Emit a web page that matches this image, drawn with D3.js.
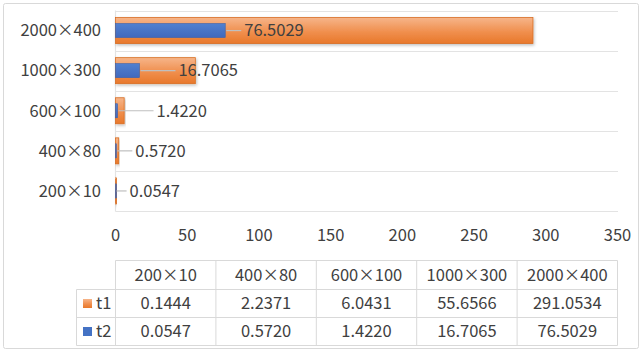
<!DOCTYPE html>
<html><head><meta charset="utf-8">
<script src="https://cdn.jsdelivr.net/npm/d3@7"></script>
<style>
body{margin:0;background:#fff;}
svg{display:block;font-family:"Noto Sans CJK SC","Noto Sans",sans-serif;}
</style></head>
<body><svg id="c" width="642" height="353"></svg>
<script>
const categories = ["200×10","400×80","600×100","1000×300","2000×400"];
const t1 = [0.1444, 2.2371, 6.0431, 55.6566, 291.0534];
const t2 = [0.0547, 0.5720, 1.4220, 16.7065, 76.5029];
const t1Labels = ["0.1444","2.2371","6.0431","55.6566","291.0534"];
const t2Labels = ["0.0547","0.5720","1.4220","16.7065","76.5029"];
const xTicks = [0,50,100,150,200,250,300,350];
const seriesNames = ["t1","t2"];

// layout constants (not data)
const labelGap = [14, 19, 39, 39, 19];
const FS = 16.5;

const svg = d3.select("#c");
const defs = svg.append("defs");
const og = defs.append("linearGradient").attr("id","og").attr("x1",0).attr("y1",0).attr("x2",0).attr("y2",1);
og.append("stop").attr("offset","0%").attr("stop-color","#f6b58a");
og.append("stop").attr("offset","55%").attr("stop-color","#f08f4e");
og.append("stop").attr("offset","100%").attr("stop-color","#e8782a");
const bg = defs.append("linearGradient").attr("id","bg").attr("x1",0).attr("y1",0).attr("x2",0).attr("y2",1);
bg.append("stop").attr("offset","0%").attr("stop-color","#5080d0");
bg.append("stop").attr("offset","100%").attr("stop-color","#4169bd");
const sh = defs.append("filter").attr("id","sh").attr("x","-10%").attr("y","-30%").attr("width","130%").attr("height","170%");
sh.append("feDropShadow").attr("dx",1).attr("dy",1.5).attr("stdDeviation",1.5).attr("flood-color","#000").attr("flood-opacity",0.25);

// frame
svg.append("rect").attr("x",3.5).attr("y",3.5).attr("width",635).attr("height",345)
  .attr("rx",2).attr("fill","#fff").attr("stroke","#d9d9d9");

const x = d3.scaleLinear().domain([0,350]).range([115.5,617.5]);
const catsTop = categories.slice().reverse();
const y = d3.scaleBand().domain(catsTop).range([10.5,211]).paddingInner(0).paddingOuter(0);

function catText(sel, s){
  const parts = s.split("×");
  sel.append("tspan").text(parts[0]);
  sel.append("tspan").attr("font-family","'Noto Sans CJK SC'").text("×");
  sel.append("tspan").text(parts[1]);
}

// gridlines at band boundaries
const bounds = catsTop.map(c=>y(c)).concat([y.range()[1]]);
svg.append("g").selectAll("line").data(bounds).join("line")
  .attr("x1",115.5).attr("x2",618).attr("y1",d=>Math.round(d)+0.5).attr("y2",d=>Math.round(d)+0.5)
  .attr("stroke","#e3e3e3").attr("stroke-width",1.2);
svg.append("line").attr("x1",115.5).attr("x2",115.5).attr("y1",10.5).attr("y2",211.5)
  .attr("stroke","#e3e3e3").attr("stroke-width",1.2);

// category labels
svg.append("g").selectAll("text").data(catsTop).join("text")
  .attr("x",101).attr("y",c=>y(c)+y.bandwidth()/2).attr("dy","0.35em")
  .attr("text-anchor","end").attr("font-size",FS).attr("fill","#404040")
  .each(function(c){ catText(d3.select(this), c); });

// x tick labels
svg.append("g").selectAll("text").data(xTicks).join("text")
  .attr("x",d=>x(d)).attr("y",235).attr("dy","0.35em").attr("text-anchor","middle")
  .attr("font-size",FS).attr("fill","#404040").text(d=>d);

// bars t1
const bw = y.bandwidth();
svg.append("g").selectAll("rect").data(categories).join("rect")
  .attr("x",x(0)).attr("y",(c)=>y(c)+bw/2-13).attr("height",26)
  .attr("width",(c,i)=>Math.max(1,x(t1[i])-x(0)))
  .attr("fill","url(#og)").attr("stroke","#d86d22").attr("stroke-width",0.8)
  .attr("filter","url(#sh)");
// bars t2
svg.append("g").selectAll("rect").data(categories).join("rect")
  .attr("x",x(0)).attr("y",(c)=>y(c)+bw/2-7).attr("height",14)
  .attr("width",(c,i)=>Math.max(0.8,x(t2[i])-x(0)))
  .attr("fill","url(#bg)").attr("stroke","#3a62ad").attr("stroke-width",0.6);

// leader lines + labels for t2
const lg = svg.append("g");
categories.forEach((c,i)=>{
  const x0 = x(t2[i]);
  const lx = x0 + labelGap[i];
  const cy = y(c)+bw/2;
  lg.append("line").attr("x1",x0+1).attr("x2",lx-3).attr("y1",cy).attr("y2",cy)
    .attr("stroke","#bfbfbf").attr("stroke-width",1.2);
  lg.append("text").attr("x",lx).attr("y",cy).attr("dy","0.35em").attr("font-size",FS)
    .attr("fill","#404040").text(t2Labels[i]);
});

// data table
const colX = d3.range(6).map(i=>115.5 + i*100.4);
const rowY = [260.5, 289.5, 317.5, 345.5];
const tg = svg.append("g");
const gc = "#d9d9d9";
// horizontal lines
tg.append("line").attr("x1",colX[0]).attr("x2",colX[5]).attr("y1",rowY[0]).attr("y2",rowY[0]).attr("stroke",gc);
[1,2,3].forEach(r=>tg.append("line").attr("x1",76.5).attr("x2",colX[5]).attr("y1",rowY[r]).attr("y2",rowY[r]).attr("stroke",gc));
colX.forEach(cx=>tg.append("line").attr("x1",cx).attr("x2",cx).attr("y1",rowY[0]).attr("y2",rowY[3]).attr("stroke",gc));
tg.append("line").attr("x1",76.5).attr("x2",76.5).attr("y1",rowY[1]).attr("y2",rowY[3]).attr("stroke",gc);

categories.forEach((c,i)=>{
  const cx = (colX[i]+colX[i+1])/2;
  tg.append("text").attr("x",cx).attr("y",(rowY[0]+rowY[1])/2).attr("dy","0.35em")
    .attr("text-anchor","middle").attr("font-size",FS).attr("fill","#404040")
    .each(function(){ catText(d3.select(this), c); });
  tg.append("text").attr("x",cx).attr("y",(rowY[1]+rowY[2])/2).attr("dy","0.35em")
    .attr("text-anchor","middle").attr("font-size",FS).attr("fill","#404040").text(t1Labels[i]);
  tg.append("text").attr("x",cx).attr("y",(rowY[2]+rowY[3])/2).attr("dy","0.35em")
    .attr("text-anchor","middle").attr("font-size",FS).attr("fill","#404040").text(t2Labels[i]);
});
// legend keys
const keyFill = ["url(#og)","#4472c4"];
seriesNames.forEach((s,k)=>{
  const cy = (rowY[k+1]+rowY[k+2])/2;
  tg.append("rect").attr("x",83).attr("y",cy-4.5).attr("width",9).attr("height",9).attr("fill",keyFill[k]);
  tg.append("text").attr("x",96).attr("y",cy).attr("dy","0.35em").attr("font-size",FS)
    .attr("fill","#404040").text(s);
});
</script></body></html>
